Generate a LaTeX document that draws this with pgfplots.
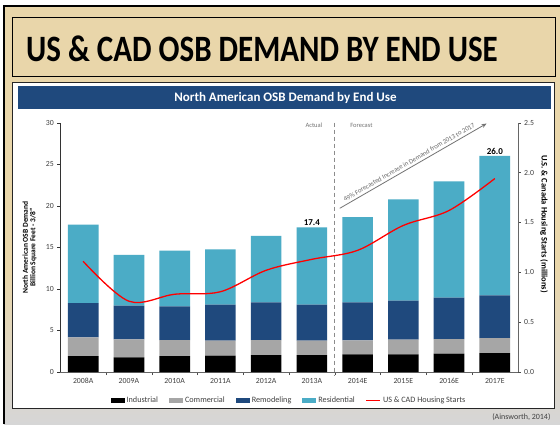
\documentclass[border=0pt]{standalone}
\usepackage{pgfplots}
\pgfplotsset{compat=1.18}
\usepackage{pgfplotstable}
\usepackage{fontspec}
\setmainfont{Carlito}
\usetikzlibrary{arrows.meta}
\definecolor{resid}{HTML}{4BACC6}
\definecolor{remod}{HTML}{1F497D}
\definecolor{comm}{HTML}{A6A6A6}
\definecolor{hdr}{HTML}{1F497D}
\definecolor{wood}{HTML}{E9D6AA}
\definecolor{txt}{HTML}{404040}

\pgfplotstableread{
x ind comm remod resid starts
0 1.92 2.25 4.13 9.45 1.11
1 1.77 2.16 4.05 6.12 0.71
2 1.92 1.93 4.05 6.70 0.78
3 1.96 1.81 4.33 6.66 0.805
4 2.04 1.81 4.53 7.99 1.02
5 2.04 1.73 4.33 9.30 1.13
6 2.12 1.69 4.57 10.27 1.22
7 2.12 1.77 4.69 12.20 1.47
8 2.20 1.77 4.97 14.00 1.62
9 2.28 1.81 5.14 16.77 1.94
}\osbdata

\begin{document}
\begin{tikzpicture}
\begin{scope}[x=1pt,y=-1pt]
\path[use as bounding box] (0,0) rectangle (560,424);
\fill[white] (0,0) rectangle (560,424);
\fill[wood] (4,6) rectangle (560,270);
\shade[top color=wood, bottom color=black!16] (4,270) rectangle (560,424);
\draw[black, line width=1.2pt] (4,424) -- (4,6) -- (560,6);
\draw[black, line width=0.8pt] (12.7,17.3) rectangle (555,76);
\node[anchor=base west, inner sep=0pt, font=\bfseries\fontsize{31}{31}\selectfont] at (26,61.5) {\scalebox{1}[1.2]{US \& CAD OSB DEMAND BY END USE}};
\fill[white] (12.7,82.7) rectangle (554,408.5);
\draw[black!85, line width=1pt] (12.7,82.7) rectangle (554,408.5);
\fill[hdr] (18,85.5) rectangle (551,109);
\node[white, font=\bfseries\fontsize{13}{13}\selectfont] at (285.5,97.5) {North American OSB Demand by End Use};
\node[anchor=east, font=\fontsize{8}{8}\selectfont, text=txt] at (554,417) {(Ainsworth, 2014)};
\node[rotate=90, align=center, font=\bfseries\fontsize{7.5}{7.5}\selectfont] at (29.5,247.5) {North American OSB Demand\\Billion Square Feet - 3/8"};
\node[rotate=-90, font=\bfseries\fontsize{8.5}{8.5}\selectfont] at (544,224) {U.S. \& Canada Housing Starts (millions)};
\end{scope}

\begin{axis}[
  at={(60.3pt,-372pt)}, anchor=south west,
  scale only axis, width=457.4pt, height=249.3pt,
  xmin=-0.5, xmax=9.5, ymin=0, ymax=30,
  ybar stacked, bar width=30.7pt,
  axis y line*=left, axis x line*=bottom,
  ytick={0,5,...,30},
  xtick={0,...,9},
  xticklabels={2008A,2009A,2010A,2011A,2012A,2013A,2014E,2015E,2016E,2017E},
  minor xtick={0.5,1.5,...,8.5},
  major x tick style={draw=none},
  minor x tick style={draw=black!70},
  tick align=outside, major tick length=3pt, minor tick length=3pt,
  y axis line style={black!80}, x axis line style={black!60},
  ytick style={draw=black!80},
  tick label style={font=\fontsize{7.8}{7.8}\selectfont, text=txt},
  /pgf/number format/assume math mode=true,
  clip=false,
  legend columns=-1,
  legend style={at={(0.5,-0.113)}, anchor=center, draw=none, fill=none,
    font=\fontsize{8.2}{8.2}\selectfont, text=txt,
    /tikz/every even column/.append style={column sep=9pt},
    inner sep=1pt},
  legend image code/.code={\fill[#1] (0pt,-2.6pt) rectangle (14pt,2.6pt);},
]
\addplot[fill=black, draw=none] table[x=x,y=ind]{\osbdata};
\addlegendentry{Industrial}
\addplot[fill=comm, draw=none] table[x=x,y=comm]{\osbdata};
\addlegendentry{Commercial}
\addplot[fill=remod, draw=none] table[x=x,y=remod]{\osbdata};
\addlegendentry{Remodeling}
\addplot[fill=resid, draw=none] table[x=x,y=resid]{\osbdata};
\addlegendentry{Residential}
\addlegendimage{legend image code/.code={\draw[red, line width=1.2pt] (0pt,0pt) -- (14pt,0pt);}}
\addlegendentry{US \& CAD Housing Starts}

\draw[black!45, line width=1.3pt, dash pattern=on 4pt off 3pt] (axis cs:5.5,30) -- ([yshift=-4pt]axis cs:5.5,0);
\node[anchor=east, font=\fontsize{6.5}{6.5}\selectfont, text=black!55] at ([xshift=-9pt]axis cs:5.5,29.7) {Actual};
\node[anchor=west, font=\fontsize{6.5}{6.5}\selectfont, text=black!55] at ([xshift=12pt]axis cs:5.5,29.7) {Forecast};
\draw[-{Stealth[length=5pt,width=4pt]}, black!55, line width=0.8pt] (axis cs:5.61,19.7) -- node[sloped, pos=0.03, anchor=south west, inner sep=2.5pt, font=\fontsize{6.7}{6.7}\selectfont, text=black!60] {49\% Forecasted Increase in Demand from 2013 to 2017} (axis cs:8.82,29.9);
\node[above, inner sep=1.5pt, font=\bfseries\fontsize{9}{9}\selectfont] at (axis cs:5,17.4) {17.4};
\node[above, inner sep=1.5pt, font=\bfseries\fontsize{9}{9}\selectfont] at (axis cs:9,26) {26.0};
\end{axis}

\begin{axis}[
  at={(60.3pt,-372pt)}, anchor=south west,
  scale only axis, width=457.4pt, height=249.3pt,
  xmin=-0.5, xmax=9.5, ymin=0, ymax=2.5,
  axis y line*=right, axis x line=none,
  ytick={0,0.5,1,1.5,2,2.5},
  yticklabel style={/pgf/number format/.cd, fixed, fixed zerofill, precision=1},
  tick align=outside, major tick length=3pt,
  y axis line style={black!60}, ytick style={draw=black!70},
  tick label style={font=\fontsize{7.8}{7.8}\selectfont, text=txt},
  /pgf/number format/assume math mode=true,
]
\addplot[red, line width=1.3pt, smooth, tension=0.55, mark=none] table[x=x,y=starts]{\osbdata};
\end{axis}
\end{tikzpicture}
\end{document}
